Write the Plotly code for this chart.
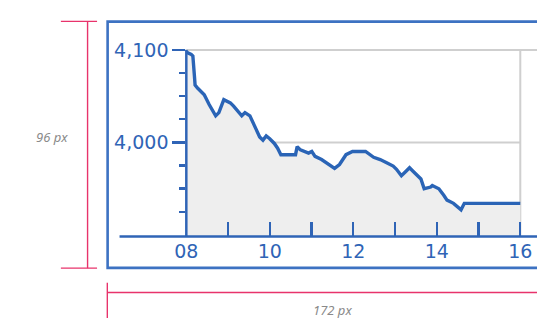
import plotly.graph_objects as go

# ---- data ----
x_years = [8.0, 8.024, 8.118, 8.157, 8.196, 8.21, 8.274, 8.43, 8.547, 8.703, 8.78, 8.859, 8.898,
           9.055, 9.133, 9.328, 9.406, 9.523, 9.601, 9.679, 9.757, 9.836, 9.914, 9.992,
           10.109, 10.187, 10.265, 10.616, 10.655, 10.733, 10.85, 10.928, 11.006, 11.084,
           11.24, 11.396, 11.552, 11.669, 11.825, 11.981, 12.293, 12.488, 12.644, 12.8,
           12.956, 13.035, 13.152, 13.269, 13.347, 13.425, 13.542, 13.62, 13.698, 13.854,
           13.893, 14.05, 14.167, 14.245, 14.401, 14.518, 14.581, 14.659, 16.0]
y_values = [4099, 4097.2, 4095.4, 4093.7, 4070.9, 4062.1, 4058.6, 4051.6, 4041.1, 4028.8, 4032.3,
            4042.8, 4046.3, 4042.8, 4039.3, 4028.8, 4032.3, 4028.8, 4021.8, 4013.0, 4006.0,
            4002.5, 4007.0, 4004.2, 3998.9, 3993.7, 3986.7, 3986.7, 3995.4, 3991.9, 3990.2,
            3988.4, 3990.2, 3984.9, 3981.4, 3976.1, 3971.9, 3976.1, 3986.7, 3990.2, 3990.2,
            3983.9, 3981.4, 3977.9, 3974.4, 3970.9, 3963.9, 3969.1, 3972.6, 3969.1, 3963.9,
            3960.4, 3949.8, 3951.6, 3953.3, 3949.8, 3942.8, 3937.5, 3934.0, 3928.8, 3927.0,
            3934.0, 3934.0]
x_tick_vals = [8, 9, 10, 11, 12, 13, 14, 15, 16]
x_tick_text = ["08", "", "10", "", "12", "", "14", "", "16"]
y_tick_vals = [4000, 4100]
y_tick_text = ["4,000", "4,100"]
y_minor_vals = [3925, 3950, 3975, 4025, 4050, 4075]
width_label = "172 px"
height_label = "96 px"

W, H = 537, 318
BLUE = "#2f64b6"
LINE = "#2a64b6"
PINK = "#e8336b"
GRAY = "#8a8a8a"


def px(x):
    return x / W


def py(y):
    return 1 - y / H


X_LEFT, X_RIGHT = 178.3, 537.0
Y_BOT, Y_TOP = 234.0, 40.0
X_PER = 42.7
Y_PER = 0.95
x_range = [8.0, 8.0 + (X_RIGHT - X_LEFT) / X_PER]
y_range = [4000 - (Y_BOT - 137.3) / Y_PER, 4000 + (137.3 - Y_TOP) / Y_PER]

fig = go.Figure()
fig.add_trace(go.Scatter(
    x=x_years, y=y_values, mode="lines",
    line=dict(color=LINE, width=3.4),
    fill="tozeroy", fillcolor="#eeeeee",
    hoverinfo="skip", showlegend=False,
))

shapes = []
# gridlines (below traces)
shapes.append(dict(type="line", xref="x", yref="y", x0=8, x1=x_range[1] + 1, y0=4100, y1=4100,
                   line=dict(color="#cfcfcf", width=2), layer="below"))
shapes.append(dict(type="line", xref="x", yref="y", x0=8, x1=16, y0=4000, y1=4000,
                   line=dict(color="#cfcfcf", width=2), layer="below"))
shapes.append(dict(type="line", xref="x", yref="y", x0=16, x1=16, y0=y_range[0], y1=4100,
                   line=dict(color="#cfcfcf", width=2), layer="below"))
# x axis line extending left
shapes.append(dict(type="line", xref="paper", yref="paper", x0=px(110), x1=1.05,
                   y0=py(Y_BOT), y1=py(Y_BOT), line=dict(color=BLUE, width=2.5)))
# y axis line
shapes.append(dict(type="line", xref="paper", yref="paper", x0=px(X_LEFT), x1=px(X_LEFT),
                   y0=py(Y_BOT), y1=py(42), line=dict(color=BLUE, width=2.5)))
# outer frame
shapes.append(dict(type="rect", xref="paper", yref="paper", x0=px(97.8), x1=1.1,
                   y0=py(266.4), y1=py(13.0), line=dict(color="#3d72c2", width=2.6)))
# dimension markers
shapes += [
    dict(type="line", xref="paper", yref="paper", x0=px(77.3), x1=px(77.3), y0=py(12.7), y1=py(266.7),
         line=dict(color=PINK, width=1.4)),
    dict(type="line", xref="paper", yref="paper", x0=px(50), x1=px(87), y0=py(12.7), y1=py(12.7),
         line=dict(color=PINK, width=1.4)),
    dict(type="line", xref="paper", yref="paper", x0=px(50), x1=px(87), y0=py(266.7), y1=py(266.7),
         line=dict(color=PINK, width=1.4)),
    dict(type="line", xref="paper", yref="paper", x0=px(97.5), x1=1.05, y0=py(291.7), y1=py(291.7),
         line=dict(color=PINK, width=1.4)),
    dict(type="line", xref="paper", yref="paper", x0=px(97.5), x1=px(97.5), y0=py(281.7), y1=py(320),
         line=dict(color=PINK, width=1.4)),
]

annotations = [
    dict(text=height_label, xref="paper", yref="paper", x=px(41), y=py(131.7), showarrow=False,
         xanchor="center", yanchor="middle",
         font=dict(family="Noto Sans", size=13, color=GRAY, style="italic")),
    dict(text=width_label, xref="paper", yref="paper", x=px(328), y=py(310), showarrow=False,
         xanchor="center", yanchor="middle",
         font=dict(family="Noto Sans", size=13, color=GRAY, style="italic")),
]

fig.update_layout(
    width=W, height=H,
    margin=dict(l=0, r=0, t=0, b=0),
    paper_bgcolor="white", plot_bgcolor="white",
    shapes=shapes, annotations=annotations,
    xaxis=dict(
        domain=[px(X_LEFT), 1], range=x_range, showgrid=False, zeroline=False, showline=False,
        tickvals=x_tick_vals, ticktext=x_tick_text, ticks="inside", ticklen=14, tickwidth=2.2,
        tickcolor=BLUE, tickfont=dict(family="DejaVu Sans", size=19, color=BLUE),
        ticklabelstandoff=2,
    ),
    yaxis=dict(
        domain=[py(Y_BOT), py(Y_TOP)], range=y_range, showgrid=False, zeroline=False, showline=False,
        tickvals=y_tick_vals, ticktext=y_tick_text, ticks="outside", ticklen=13, tickwidth=2.2,
        tickcolor=BLUE, tickfont=dict(family="DejaVu Sans", size=19, color=BLUE),
        minor=dict(tickvals=y_minor_vals, ticks="outside", ticklen=6,
                   tickwidth=2.2, tickcolor=BLUE, showgrid=False),
    ),
)

fig.write_html(
    "out.html",
    config={"displayModeBar": False, "staticPlot": True},
    post_script="document.body.style.margin='0';document.body.style.padding='0';"
                "document.body.style.overflow='hidden';",
)
